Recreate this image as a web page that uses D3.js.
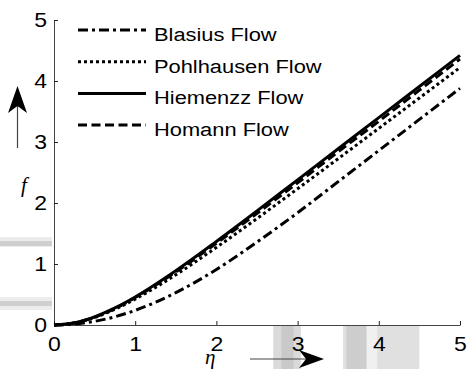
<!DOCTYPE html>
<html>
<head>
<meta charset="utf-8">
<script src="https://cdn.jsdelivr.net/npm/d3@7"></script>
<style>
  body { margin: 0; background: white; }
  svg { display: block; }
  .tickText { font-family: "Liberation Sans", Arial, sans-serif; font-size: 20px; fill: black; }
  .legendText { font-family: "Liberation Sans", Arial, sans-serif; font-size: 19px; fill: black; }
  .axisName { font-family: "Liberation Serif", "Times New Roman", serif; font-style: italic; font-size: 21px; fill: black; }
</style>
</head>
<body>
<div id="chart-container"></div>
<script>
/* data */
var etaValues   = [0, 0.25, 0.5, 0.75, 1, 1.5, 2, 2.5, 3, 3.5, 4, 4.5, 5]
var blasiusF    = [0, 0.015, 0.06, 0.135, 0.24, 0.53, 0.91, 1.36, 1.84, 2.35, 2.86, 3.37, 3.88]
var pohlhausenF = [0, 0.033, 0.124, 0.258, 0.425, 0.823, 1.272, 1.746, 2.234, 2.727, 3.224, 3.722, 4.221]
var hiemenzF    = [0, 0.036, 0.134, 0.28, 0.46, 0.89, 1.37, 1.87, 2.38, 2.89, 3.40, 3.91, 4.42]
var homannF     = [0, 0.034, 0.128, 0.27, 0.45, 0.87, 1.34, 1.83, 2.33, 2.84, 3.34, 3.85, 4.36]
var seriesNames = ["Blasius Flow", "Pohlhausen Flow", "Hiemenzz Flow", "Homann Flow"]
var xTicks = [0, 1, 2, 3, 4, 5]
var yTicks = [0, 1, 2, 3, 4, 5]

/* layout */
var layout = {
    width: 467,
    height: 369,
    left: 54,
    right: 460,
    top: 20,
    bottom: 325,
    tickLen: 4,
    lineW: 3,
    legendX1: 78,
    legendX2: 146,
    legendTextX: 154,
    legendY0: 30,
    legendStep: 31.7,
    textStretch: 1.15
}
var dashes = ["10,4,3,4", "3,3", null, "9,4.5"]

var x = d3.scaleLinear().domain([0, 5]).range([layout.left, layout.right])
var y = d3.scaleLinear().domain([0, 5]).range([layout.bottom, layout.top])

var svg = d3.select("#chart-container")
    .append("svg")
    .attr("width", layout.width)
    .attr("height", layout.height)

/* scan shading (grey smudges in the original picture) */
var shade = svg.append("g").attr("id", "shade")
shade.append("rect").attr("x", 0).attr("y", 237).attr("width", 52).attr("height", 10).attr("fill", "#ececec")
shade.append("rect").attr("x", 0).attr("y", 241).attr("width", 52).attr("height", 5).attr("fill", "#cfcfcf")
shade.append("rect").attr("x", 0).attr("y", 297).attr("width", 52).attr("height", 13).attr("fill", "#ececec")
shade.append("rect").attr("x", 0).attr("y", 301).attr("width", 52).attr("height", 5).attr("fill", "#cfcfcf")
shade.append("rect").attr("x", x(2.7)).attr("y", 326).attr("width", x(3.04) - x(2.7)).attr("height", 43).attr("fill", "#dadada")
shade.append("rect").attr("x", x(2.8)).attr("y", 326).attr("width", x(2.95) - x(2.8)).attr("height", 43).attr("fill", "#c9c9c9")
shade.append("rect").attr("x", x(3.56)).attr("y", 326).attr("width", x(4.5) - x(3.56)).attr("height", 43).attr("fill", "#e0e0e0")
shade.append("rect").attr("x", x(3.6)).attr("y", 326).attr("width", x(3.85) - x(3.6)).attr("height", 43).attr("fill", "#cdcdcd")
shade.append("rect").attr("x", x(3.85)).attr("y", 326).attr("width", x(3.98) - x(3.85)).attr("height", 43).attr("fill", "#f0f0f0")

/* axes */
var yAxis = d3.axisLeft(y).tickValues(yTicks).tickFormat(d3.format("d"))
    .tickSizeInner(-layout.tickLen).tickSizeOuter(0).tickPadding(6)
var xAxis = d3.axisBottom(x).tickValues(xTicks).tickFormat(d3.format("d"))
    .tickSizeInner(-layout.tickLen).tickSizeOuter(0).tickPadding(12)

var yG = svg.append("g").attr("transform", "translate(" + layout.left + ",0)").call(yAxis)
var xG = svg.append("g").attr("transform", "translate(0," + layout.bottom + ")").call(xAxis)

;[yG, xG].forEach(function(g) {
    g.select(".domain").attr("stroke", "#444").attr("stroke-width", 1)
    g.selectAll(".tick line").attr("stroke", "#222")
    g.selectAll(".tick text")
      .attr("class", "tickText")
      .attr("font-family", null)
      .attr("font-size", null)
      .attr("transform", "scale(" + layout.textStretch + ",1)")
})

/* curves */
var allF = [blasiusF, pohlhausenF, hiemenzF, homannF]
var lineFn = d3.line()
    .x(function(d) { return x(d[0]) })
    .y(function(d) { return y(d[1]) })
    .curve(d3.curveMonotoneX)

allF.forEach(function(vals, i) {
    var pts = etaValues.map(function(e, j) { return [e, vals[j]] })
    svg.append("path")
      .attr("d", lineFn(pts))
      .attr("fill", "none")
      .attr("stroke", "black")
      .attr("stroke-width", layout.lineW)
      .attr("stroke-dasharray", dashes[i])
})

/* legend */
seriesNames.forEach(function(name, i) {
    var ly = layout.legendY0 + i * layout.legendStep
    svg.append("line")
      .attr("x1", layout.legendX1)
      .attr("x2", layout.legendX2)
      .attr("y1", ly)
      .attr("y2", ly)
      .attr("stroke", "black")
      .attr("stroke-width", layout.lineW)
      .attr("stroke-dasharray", dashes[i])
    svg.append("text")
      .attr("class", "legendText")
      .attr("transform", "translate(" + layout.legendTextX + "," + (ly + 11) + ") scale(" + layout.textStretch + ",1)")
      .text(name)
})

/* axis names and arrows */
svg.append("text").attr("class", "axisName").attr("x", 21).attr("y", 192).text("f")
svg.append("text").attr("class", "axisName").attr("x", 205).attr("y", 364).text("η")

svg.append("line")
  .attr("x1", 17.5).attr("x2", 17.5).attr("y1", 148).attr("y2", 106)
  .attr("stroke", "#444").attr("stroke-width", 1.2)
svg.append("path")
  .attr("d", "M17.5,86 L27,113 L17.5,106 L8,113 Z")
  .attr("fill", "black")

svg.append("line")
  .attr("x1", 250).attr("x2", 307).attr("y1", 359).attr("y2", 359)
  .attr("stroke", "#444").attr("stroke-width", 1.2)
svg.append("path")
  .attr("d", "M324,359 L299,350 L306,359 L299,368 Z")
  .attr("fill", "black")
</script>
</body>
</html>
